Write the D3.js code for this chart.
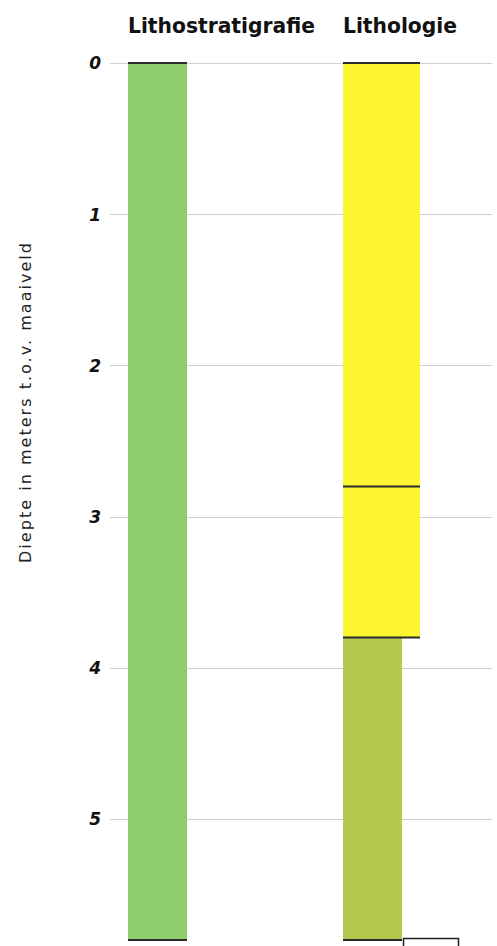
<!DOCTYPE html>
<html><head><meta charset="utf-8">
<script src="https://cdn.jsdelivr.net/npm/d3@7"></script>
<style>html,body{margin:0;padding:0;background:#fff;}svg{display:block;}</style>
</head><body>
<script>
const depthTicks = [0, 1, 2, 3, 4, 5];
const maxDepth = 5.8;
const columns = ["Lithostratigrafie", "Lithologie"];
const stratTops = [0];
const stratBottoms = [5.8];
const stratUnits = ["Boxtel"];
const lithoTops = [0, 2.8, 3.8];
const lithoBottoms = [2.8, 3.8, 5.8];
const lithoTypes = ["zand", "zand", "leem"];
const yTitle = "Diepte in meters t.o.v. maaiveld";

const W = 497, H = 946;
const svg = d3.select("body").append("svg").attr("width", W).attr("height", H);

const y = d3.scaleLinear().domain([0, maxDepth]).range([63, 940]);
const x = d3.scaleBand().domain(columns).range([128, 558]).paddingInner(0);
const colW = {Lithostratigrafie: 59};
const lithoWidth = d3.scaleOrdinal().domain(["zand", "leem"]).range([77, 59]);
const lithoColor = d3.scaleOrdinal().domain(["zand", "leem"]).range(["#fdf532", "#b6c84f"]);
const stratColor = d3.scaleOrdinal().domain(stratUnits).range(["#8ece6c"]);

// gridlines
svg.append("g").selectAll("line").data(depthTicks).join("line")
  .attr("x1", 110).attr("x2", 492)
  .attr("y1", d => Math.round(y(d)) + 0.5).attr("y2", d => Math.round(y(d)) + 0.5)
  .attr("stroke", "#cfcfcf").attr("stroke-width", 1);

// axis labels
const axis = d3.axisLeft(y).tickValues(depthTicks).tickSize(0).tickPadding(0).tickFormat(d3.format("d"));
const ag = svg.append("g").attr("transform", "translate(101,0)").call(axis);
ag.select(".domain").remove();
ag.selectAll("text").attr("font-family", "DejaVu Sans").attr("font-weight", "bold")
  .attr("font-style", "italic").attr("font-size", 17).attr("fill", "#111").attr("dy", "0.35em");

// y title
svg.append("text").attr("transform", `translate(31,${403}) rotate(-90)`)
  .attr("text-anchor", "middle").attr("font-family", "DejaVu Sans").attr("font-size", 16)
  .attr("fill", "#222").attr("textLength", 320).attr("lengthAdjust", "spacing").text(yTitle);

// column headers
const lx = 343;
svg.append("g").selectAll("text").data(columns).join("text")
  .attr("x", (d, i) => i === 0 ? x(d) : lx).attr("y", 33)
  .attr("font-family", "DejaVu Sans Condensed, DejaVu Sans").attr("font-weight", "bold").attr("font-size", 22)
  .attr("fill", "#111")
  .attr("textLength", (d, i) => i === 0 ? 187 : 114).attr("lengthAdjust", "spacingAndGlyphs")
  .text(d => d);

// strat column
const sx = x("Lithostratigrafie");
const strat = stratTops.map((t, i) => ({top: t, bottom: stratBottoms[i], unit: stratUnits[i]}));
svg.append("g").selectAll("rect").data(strat).join("rect")
  .attr("x", sx).attr("width", colW.Lithostratigrafie)
  .attr("y", d => y(d.top)).attr("height", d => y(d.bottom) - y(d.top))
  .attr("fill", d => stratColor(d.unit));

// litho column
const litho = lithoTops.map((t, i) => ({top: t, bottom: lithoBottoms[i], type: lithoTypes[i]}));
svg.append("g").selectAll("rect").data(litho).join("rect")
  .attr("x", lx).attr("width", d => lithoWidth(d.type))
  .attr("y", d => y(d.top)).attr("height", d => y(d.bottom) - y(d.top))
  .attr("fill", d => lithoColor(d.type));

// boundaries
const sLines = [...stratTops, stratBottoms[stratBottoms.length - 1]];
svg.append("g").selectAll("line").data(sLines).join("line")
  .attr("x1", sx).attr("x2", sx + colW.Lithostratigrafie)
  .attr("y1", d => y(d)).attr("y2", d => y(d))
  .attr("stroke", "#2a2a2a").attr("stroke-width", 2);

svg.append("g").selectAll("line").data(litho).join("line")
  .attr("x1", lx).attr("x2", (d, i) => lx + Math.max(lithoWidth(d.type), i > 0 ? lithoWidth(litho[i - 1].type) : 0))
  .attr("y1", d => y(d.top)).attr("y2", d => y(d.top))
  .attr("stroke", "#2a2a2a").attr("stroke-width", 2);
const last = litho[litho.length - 1];
svg.append("line").attr("x1", lx).attr("x2", lx + lithoWidth(last.type))
  .attr("y1", y(last.bottom)).attr("y2", y(last.bottom))
  .attr("stroke", "#2a2a2a").attr("stroke-width", 2);

// small box at bottom
svg.append("rect").attr("x", 403.5).attr("y", 938.5).attr("width", 55).attr("height", 10)
  .attr("fill", "#fff").attr("stroke", "#222").attr("stroke-width", 1.5);
</script>
</body></html>
